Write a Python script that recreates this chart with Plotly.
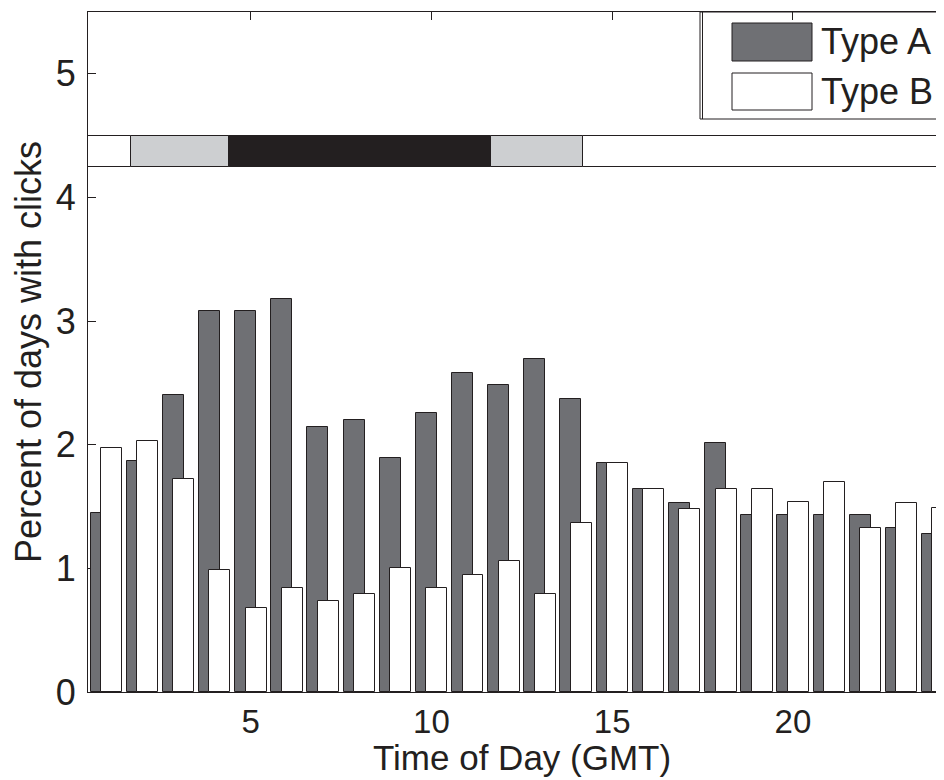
import plotly.graph_objects as go

# ---- data ----
hours = list(range(1, 25))
type_a = [1.45, 1.87, 2.40, 3.08, 3.08, 3.18, 2.14, 2.20, 1.89, 2.26, 2.58, 2.48,
          2.69, 2.37, 1.85, 1.64, 1.53, 2.01, 1.43, 1.43, 1.43, 1.43, 1.33, 1.28]
type_b = [1.97, 2.03, 1.72, 0.99, 0.68, 0.84, 0.74, 0.79, 1.00, 0.84, 0.95, 1.06,
          0.79, 1.37, 1.85, 1.64, 1.48, 1.64, 1.64, 1.54, 1.70, 1.33, 1.53, 1.49]
x_ticks = [5, 10, 15, 20]
y_ticks = [0, 1, 2, 3, 4, 5]
band_starts = [0.5, 1.7, 4.4, 11.65, 14.2]
band_ends = [1.7, 4.4, 11.65, 14.2, 24.5]
band_colors = ["#ffffff", "#cdcfd1", "#231f20", "#cdcfd1", "#ffffff"]
series_names = ["Type A", "Type B"]

# ---- style ----
INK = "#231f20"
A_FILL = "#6f7074"
FONT = "Liberation Sans, Arial, Helvetica, sans-serif"
FS = 36
TFS = 33
OFF = 8  # page body margin in the browser
W, H = 944 - OFF, 780 - OFF
ML, MR, MT, MB = 88 - OFF, 0, 12 - OFF, 780 - 692
X_RANGE = [0.5, 24.18]
Y_RANGE = [0, 5.5]

fig = go.Figure()

# time-of-day band
fig.add_trace(go.Bar(
    orientation="h",
    y=[4.375] * len(band_starts),
    base=band_starts,
    x=[e - s for s, e in zip(band_starts, band_ends)],
    width=0.25,
    marker=dict(color=band_colors, line=dict(color=INK, width=1)),
    showlegend=False, hoverinfo="skip",
))

fig.add_trace(go.Bar(
    x=hours, y=type_a, name=series_names[0],
    width=0.58, offset=-0.43,
    marker=dict(color=A_FILL, line=dict(color=INK, width=1)),
    showlegend=False,
))
fig.add_trace(go.Bar(
    x=hours, y=type_b, name=series_names[1],
    width=0.58, offset=-0.14,
    marker=dict(color="#ffffff", line=dict(color=INK, width=1)),
    showlegend=False,
))

pw = W - ML - MR
ph = H - MT - MB


# helpers: target-page pixel -> paper fraction
def px(x):
    return (x - OFF - ML) / pw


def py(y):
    return (H - MB - (y - OFF)) / ph


shapes = []
# legend box (cropped on the right like the original)
shapes.append(dict(type="rect", xref="paper", yref="paper",
                   x0=px(700), x1=px(990), y0=py(119), y1=py(12),
                   line=dict(color=INK, width=1), fillcolor="rgba(0,0,0,0)"))
shapes.append(dict(type="line", xref="paper", yref="paper",
                   x0=px(702.5), x1=px(702.5), y0=py(119), y1=py(12),
                   line=dict(color=INK, width=1)))
shapes.append(dict(type="rect", xref="paper", yref="paper",
                   x0=px(732), x1=px(812), y0=py(61), y1=py(23),
                   line=dict(color=INK, width=1), fillcolor=A_FILL))
shapes.append(dict(type="rect", xref="paper", yref="paper",
                   x0=px(732), x1=px(812), y0=py(110), y1=py(73),
                   line=dict(color=INK, width=1), fillcolor="#ffffff"))

annotations = [
    dict(text=series_names[0], xref="paper", yref="paper", x=px(819), y=py(42),
         xanchor="left", yanchor="middle", showarrow=False,
         font=dict(family=FONT, size=FS, color=INK)),
    dict(text=series_names[1], xref="paper", yref="paper", x=px(819), y=py(91),
         xanchor="left", yanchor="middle", showarrow=False,
         font=dict(family=FONT, size=FS, color=INK)),
    dict(text="Time of Day (GMT)", xref="x", yref="paper", x=12.5, y=py(757),
         xanchor="center", yanchor="middle", showarrow=False,
         font=dict(family=FONT, size=35, color=INK)),
]

fig.update_layout(
    width=W, height=H,
    margin=dict(l=ML, r=MR, t=MT, b=MB, pad=0),
    paper_bgcolor="white", plot_bgcolor="white",
    barmode="overlay",
    bargap=0,
    shapes=shapes,
    annotations=annotations,
    font=dict(family=FONT, size=FS, color=INK),
    xaxis=dict(
        range=X_RANGE, tickvals=x_ticks, ticktext=[str(v) for v in x_ticks],
        ticks="inside", ticklen=8, tickwidth=1, tickcolor=INK,
        showline=True, linecolor=INK, linewidth=1, mirror="ticks",
        showgrid=False, zeroline=False, layer="below traces",
        tickfont=dict(family=FONT, size=TFS, color=INK),
    ),
    yaxis=dict(
        range=Y_RANGE, tickvals=y_ticks, ticktext=[str(v) for v in y_ticks],
        ticks="inside", ticklen=8, tickwidth=1, tickcolor=INK,
        showline=True, linecolor=INK, linewidth=1, mirror=False,
        showgrid=False, zeroline=False, layer="below traces",
        ticklabelstandoff=4,
        tickfont=dict(family=FONT, size=FS, color=INK),
        title=dict(text="Percent of days with clicks",
                   font=dict(family=FONT, size=FS, color=INK), standoff=10),
    ),
)

fig.write_html("out.html")
